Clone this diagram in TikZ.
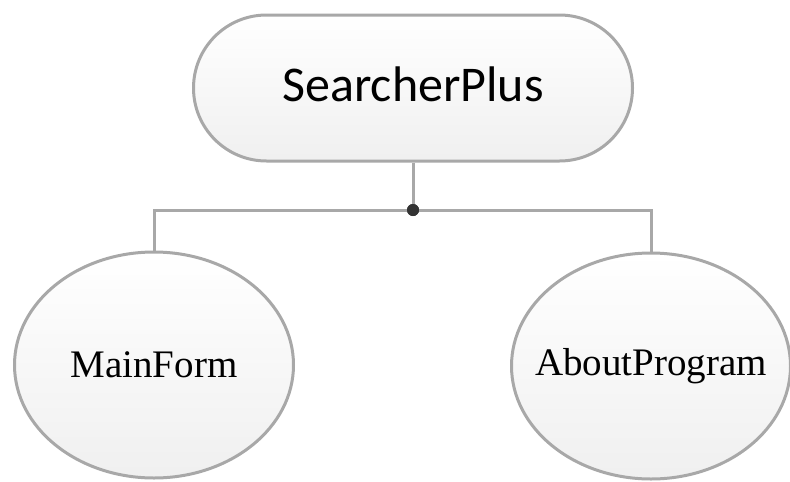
\documentclass[tikz,border=0pt]{standalone}
\usepackage{fontspec}
\setmainfont{Liberation Serif}
\newfontfamily\calfont{Carlito}
\usetikzlibrary{shapes.geometric,shapes.misc,positioning}

\begin{document}
\begin{tikzpicture}[x=1pt,y=-1pt,
  box/.style={draw=cline,line width=3pt,top color=white,bottom color=cfill,inner sep=0pt},
  root/.style={box,rounded rectangle,minimum width=439pt,minimum height=146pt,font=\calfont\fontsize{50}{60}\selectfont},
  leaf/.style={box,ellipse,minimum width=279pt,minimum height=226pt,inner xsep=-60pt,font=\fontsize{39}{46}\selectfont},
  link/.style={draw=cline,line width=3pt}]
%
\useasboundingbox (0,0) rectangle (790,482);
%
\definecolor{cline}{rgb}{0.66,0.66,0.66}
\definecolor{cfill}{rgb}{0.94,0.94,0.94}
\definecolor{cdot}{rgb}{0.2,0.2,0.2}
%
\node[root] (searcher) at (413,88) {\raisebox{8pt}{SearcherPlus}};
\node[leaf] (mainform) at (154,365) {MainForm};
\node[leaf] (about) at (651,366) {AboutProgram};
\node[circle,fill=cdot,inner sep=0pt,minimum size=12pt] (hub) at (413,210) {};
%
\draw[link] (searcher.south) -- (hub);
\draw[link] (mainform.north) |- (hub);
\draw[link] (hub) -| (about.north);
\node[circle,fill=cdot,inner sep=0pt,minimum size=12pt] at (hub) {};
%
\end{tikzpicture}
\end{document}
